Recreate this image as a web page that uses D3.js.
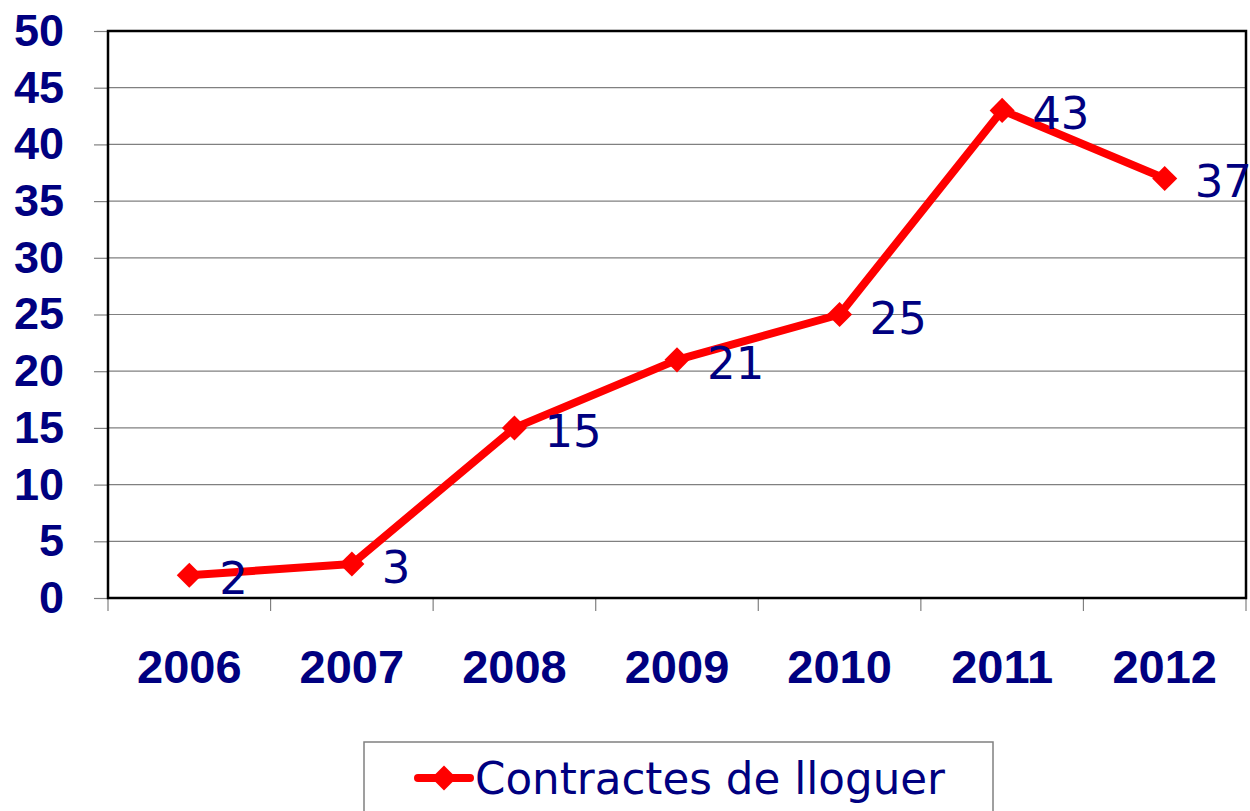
<!DOCTYPE html>
<html>
<head>
<meta charset="utf-8">
<script src="https://cdn.jsdelivr.net/npm/d3@7"></script>
<style>
  html, body { margin: 0; padding: 0; background: #fff; }
  svg { display: block; }
</style>
</head>
<body>
<div id="chart"></div>
<script>
// ---------- Dades ----------
const years = ['2006', '2007', '2008', '2009', '2010', '2011', '2012'];
const contractes = [2, 3, 15, 21, 25, 43, 37];
const yTicks = [0, 5, 10, 15, 20, 25, 30, 35, 40, 45, 50];
const seriesName = 'Contractes de lloguer';

const W = 1250, H = 811;
const NAVY = '#000080';
const RED = '#ff0000';
const plot = { left: 108, right: 1246, top: 31, bottom: 598 };

const svg = d3.select('#chart').append('svg')
    .attr('width', W).attr('height', H);

const x = d3.scaleBand().domain(years).range([plot.left, plot.right]).paddingInner(0).paddingOuter(0);
const y = d3.scaleLinear().domain([0, 50]).range([plot.bottom, plot.top]);

// gridlines
svg.append('g')
    .selectAll('line')
    .data(yTicks.filter(d => d > 0))
    .join('line')
    .attr('x1', plot.left).attr('x2', plot.right)
    .attr('y1', d => y(d)).attr('y2', d => y(d))
    .attr('stroke', '#808080').attr('stroke-width', 1.2);

// eix Y
const yAxis = svg.append('g')
    .attr('transform', `translate(${plot.left},0)`)
    .call(d3.axisLeft(y).tickValues(yTicks).tickSize(14).tickPadding(30));
yAxis.select('.domain').remove();
yAxis.selectAll('.tick line').attr('stroke', '#808080').attr('stroke-width', 1.2);
yAxis.selectAll('.tick text')
    .attr('fill', NAVY)
    .style('font-family', '"Liberation Sans", Arial, sans-serif')
    .style('font-weight', 'bold')
    .style('font-size', '45px');

// eix X
const xAxis = svg.append('g')
    .attr('transform', `translate(0,${plot.bottom})`)
    .call(d3.axisBottom(x).tickSize(0).tickPadding(52));
xAxis.select('.domain').remove();
xAxis.selectAll('.tick text')
    .attr('fill', NAVY)
    .style('font-family', '"Liberation Sans", Arial, sans-serif')
    .style('font-weight', 'bold')
    .style('font-size', '47px');

// x ticks at band boundaries
svg.append('g')
    .selectAll('line')
    .data(years.map(d => x(d)).concat([plot.right]))
    .join('line')
    .attr('x1', d => d).attr('x2', d => d)
    .attr('y1', plot.bottom).attr('y2', plot.bottom + 13)
    .attr('stroke', '#808080').attr('stroke-width', 1.2);

// frame
svg.append('rect')
    .attr('x', plot.left).attr('y', plot.top)
    .attr('width', plot.right - plot.left).attr('height', plot.bottom - plot.top)
    .attr('fill', 'none').attr('stroke', '#000').attr('stroke-width', 2.5);

// line
const cx = d => x(d) + x.bandwidth() / 2;
const line = d3.line()
    .x((d, i) => cx(years[i]))
    .y(d => y(d));

svg.append('path')
    .datum(contractes)
    .attr('d', line)
    .attr('fill', 'none')
    .attr('stroke', RED)
    .attr('stroke-width', 8)
    .attr('stroke-linejoin', 'round');

const diamond = d3.symbol().type(d3.symbolDiamond2).size(400);

svg.append('g')
    .selectAll('path')
    .data(contractes)
    .join('path')
    .attr('d', diamond)
    .attr('transform', (d, i) => `translate(${cx(years[i])},${y(d)})`)
    .attr('fill', RED);

// etiquetes
svg.append('g')
    .selectAll('text')
    .data(contractes)
    .join('text')
    .attr('x', (d, i) => cx(years[i]) + 30)
    .attr('y', d => y(d) + 19)
    .attr('fill', NAVY)
    .style('font-family', '"DejaVu Sans", Verdana, sans-serif')
    .style('font-size', '45px')
    .text(d => d);

// llegenda
const lg = svg.append('g');
lg.append('rect')
    .attr('x', 364).attr('y', 742)
    .attr('width', 629).attr('height', 90)
    .attr('fill', '#fff').attr('stroke', '#808080').attr('stroke-width', 1.5);
lg.append('line')
    .attr('x1', 418).attr('x2', 470)
    .attr('y1', 778).attr('y2', 778)
    .attr('stroke', RED).attr('stroke-width', 8).attr('stroke-linecap', 'round');
lg.append('path')
    .attr('d', diamond)
    .attr('transform', 'translate(444,778)')
    .attr('fill', RED);
lg.append('text')
    .attr('x', 475).attr('y', 794)
    .attr('fill', NAVY)
    .attr('textLength', 470)
    .attr('lengthAdjust', 'spacingAndGlyphs')
    .style('font-family', '"DejaVu Sans", Verdana, sans-serif')
    .style('font-size', '44px')
    .text(seriesName);
</script>
</body>
</html>
